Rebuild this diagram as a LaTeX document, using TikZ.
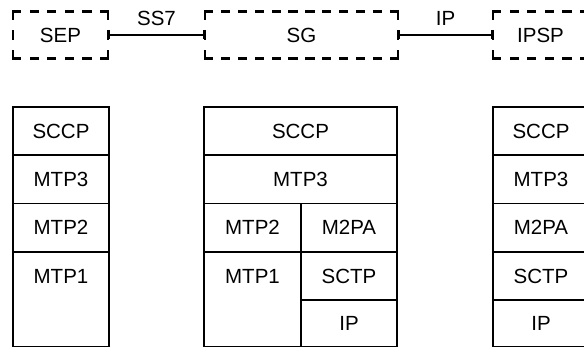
\documentclass[tikz,border=0pt]{standalone}
\usepackage{fontspec}
\setmainfont{Liberation Sans}
\usetikzlibrary{arrows.meta}
\begin{document}
\begin{tikzpicture}[x=1pt,y=-1pt,
  txt/.style={inner sep=0pt, outer sep=0pt, font=\fontsize{20.5}{24}\selectfont},
  cell/.style={txt, draw, line width=1.8pt},
  box/.style={txt},
  dside/.style={line width=2.2pt, line cap=rect, dash pattern=on 7pt off #1},
  link/.style={line width=1.7pt, {Bar[width=9pt]}-{Bar[width=9pt]}}]
\clip (0,0) rectangle (584,347);
% top row
\node[box, minimum width=95pt, minimum height=47pt] (sep) at (60.5,35) {SEP};
\node[box, minimum width=193pt, minimum height=47pt] (sg) at (301.5,35) {SG};
\node[box, minimum width=95pt, minimum height=47pt] (ipsp) at (540.5,35) {IPSP};
\foreach \n/\g in {sep/10.6pt, sg/9.91pt, ipsp/10.6pt}{
  \draw[dside=\g] (\n.north west) -- (\n.north east);
  \draw[dside=\g] (\n.south west) -- (\n.south east);
  \draw[dside=13pt] (\n.north west) -- (\n.south west);
  \draw[dside=13pt] (\n.north east) -- (\n.south east);
}
\draw[link] (sep.east) -- (sg.west);
\draw[link] (sg.east) -- (ipsp.west);
\node[txt] (ss7) at (156.5,18) {SS7};
\node[txt] (iplink) at (445.5,18) {IP};
% left stack
\node[cell, minimum width=96pt, minimum height=48.3pt] (l1) at (61,131) {SCCP};
\node[cell, minimum width=96pt, minimum height=48.3pt] (l2) at (61,179.3) {MTP3};
\node[cell, minimum width=96pt, minimum height=48.3pt] (l3) at (61,227.7) {MTP2};
\node[cell, minimum width=96pt, minimum height=94.5pt] (l4) at (61,299.2) {};
\node[txt] (l4t) at (61,276) {MTP1};
% middle stack
\node[cell, minimum width=193pt, minimum height=48.3pt] (m1) at (300.5,131) {SCCP};
\node[cell, minimum width=193pt, minimum height=48.3pt] (m2) at (300.5,179.3) {MTP3};
\node[cell, minimum width=97pt, minimum height=48.3pt] (m3l) at (252.5,227.7) {MTP2};
\node[cell, minimum width=96pt, minimum height=48.3pt] (m3r) at (349,227.7) {M2PA};
\node[cell, minimum width=97pt, minimum height=94.5pt] (m4l) at (252.5,299.2) {};
\node[txt] (m4lt) at (252.5,276) {MTP1};
\node[cell, minimum width=96pt, minimum height=48.3pt] (m4r) at (349,276) {SCTP};
\node[cell, minimum width=96pt, minimum height=46.5pt] (m5r) at (349,323.2) {IP};
% right stack
\node[cell, minimum width=96pt, minimum height=48.3pt] (r1) at (541,131) {SCCP};
\node[cell, minimum width=96pt, minimum height=48.3pt] (r2) at (541,179.3) {MTP3};
\node[cell, minimum width=96pt, minimum height=48.3pt] (r3) at (541,227.7) {M2PA};
\node[cell, minimum width=96pt, minimum height=48.3pt] (r4) at (541,276) {SCTP};
\node[cell, minimum width=96pt, minimum height=46.5pt] (r5) at (541,323.2) {IP};
\end{tikzpicture}
\end{document}
